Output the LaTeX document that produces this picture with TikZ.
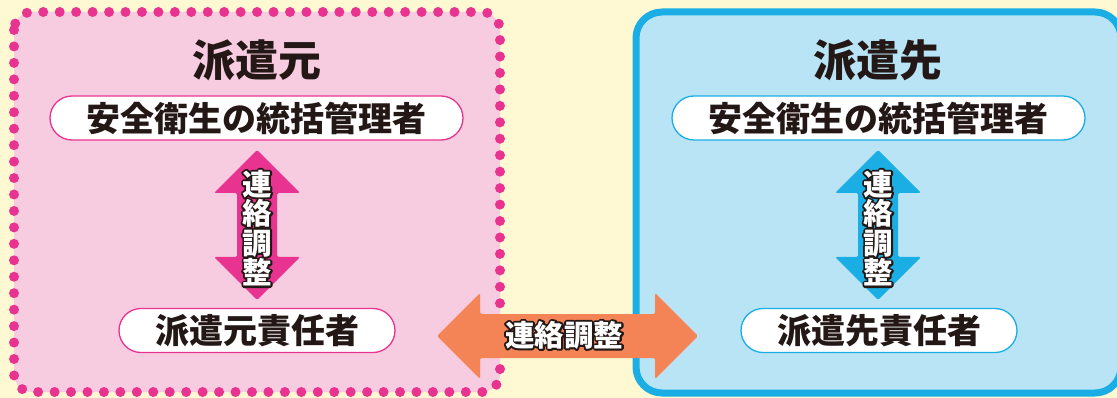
\documentclass[tikz,border=0pt]{standalone}
\usepackage{fontspec}
\newfontfamily\jp{Noto Sans CJK JP}
\definecolor{cream}{RGB}{254,249,210}
\definecolor{pinkfill}{RGB}{248,204,224}
\definecolor{magenta}{RGB}{232,52,144}
\definecolor{bluefill}{RGB}{185,228,246}
\definecolor{blueline}{RGB}{26,174,228}
\definecolor{orangearrow}{RGB}{244,132,86}
\definecolor{ink}{RGB}{35,24,21}
\tikzset{
  title/.style={font=\jp\bfseries\fontsize{43}{43}\selectfont, text=ink, inner sep=0pt},
  pill/.style={rounded corners=22pt, fill=white, line width=1.3pt, minimum height=44pt, inner sep=0pt,
     font=\jp\bfseries\fontsize{34}{34}\selectfont, text=ink},
  pillL/.style={pill, draw=magenta},
  pillR/.style={pill, draw=blueline},
  otxt/.style={inner sep=0pt, align=center},
}
\newcommand\strokeon{\special{pdf:literal direct 2 Tr 3.8 w 1 j}}
\newcommand\strokeoff{\special{pdf:literal direct 0 Tr 1 w 0 j}}
% white text with a dark outline: a stroked dark layer under a white layer
\newcommand\outlinedtext[4]{%
  \node[otxt, text=ink, font=#3] at (#1) {\strokeon#4\strokeoff};
  \node[otxt, text=white, font=#3] (#2) at (#1) {#4};
}
\newcommand\vfont{\jp\bfseries\fontsize{29.5}{29.5}\selectfont}
\begin{document}
\begin{tikzpicture}[x=1pt,y=-1pt]
\useasboundingbox (0,0) rectangle (1117,398);
\clip (0,0) rectangle (1117,398);
\fill[cream] (0,0) rectangle (1117,398);
% left frame
\fill[pinkfill, rounded corners=18pt] (14,12) rectangle (500,392);
\draw[magenta, line width=10pt, line cap=round, dash pattern=on 0pt off 16.45pt, rounded corners=18pt]
  (14,12) rectangle (500,392);
% right frame
\draw[fill=bluefill, draw=blueline, line width=7pt, rounded corners=26pt] (636,12) rectangle (1121,393);
% titles
\node[title] (tL) at (257,60) {派遣元};
\node[title] (tR) at (878,60) {派遣先};
% pills
\node[pillL, minimum width=413pt] (supL) at (256.5,118) {安全衛生の統括管理者};
\node[pillR, minimum width=413pt] (supR) at (878.5,118) {安全衛生の統括管理者};
\node[pillL, minimum width=276pt] (respL) at (257,330.5) {派遣元責任者};
\node[pillR, minimum width=276pt] (respR) at (879,330.5) {派遣先責任者};
% vertical arrows
\fill[magenta, rounded corners=1.5pt] (257,150) -- (300,193) -- (277,193) -- (277,257) -- (300,257) -- (257,300)
  -- (214,257) -- (237,257) -- (237,193) -- (214,193) -- cycle;
\fill[blueline, rounded corners=1.5pt] (878,150) -- (921,193) -- (898,193) -- (898,257) -- (921,257) -- (878,300)
  -- (835,257) -- (858,257) -- (858,193) -- (835,193) -- cycle;
% horizontal arrow
\fill[orangearrow, rounded corners=1.5pt] (437,336) -- (480,293) -- (480,314) -- (655,314) -- (655,293) -- (698,336)
  -- (655,379) -- (655,358) -- (480,358) -- (480,379) -- cycle;
% arrow labels
\outlinedtext{257,228}{vL}{\vfont}{連\\絡\\調\\整}
\outlinedtext{878,228}{vR}{\vfont}{連\\絡\\調\\整}
\outlinedtext{564,335}{hM}{\vfont}{連絡調整}
\end{tikzpicture}
\end{document}
